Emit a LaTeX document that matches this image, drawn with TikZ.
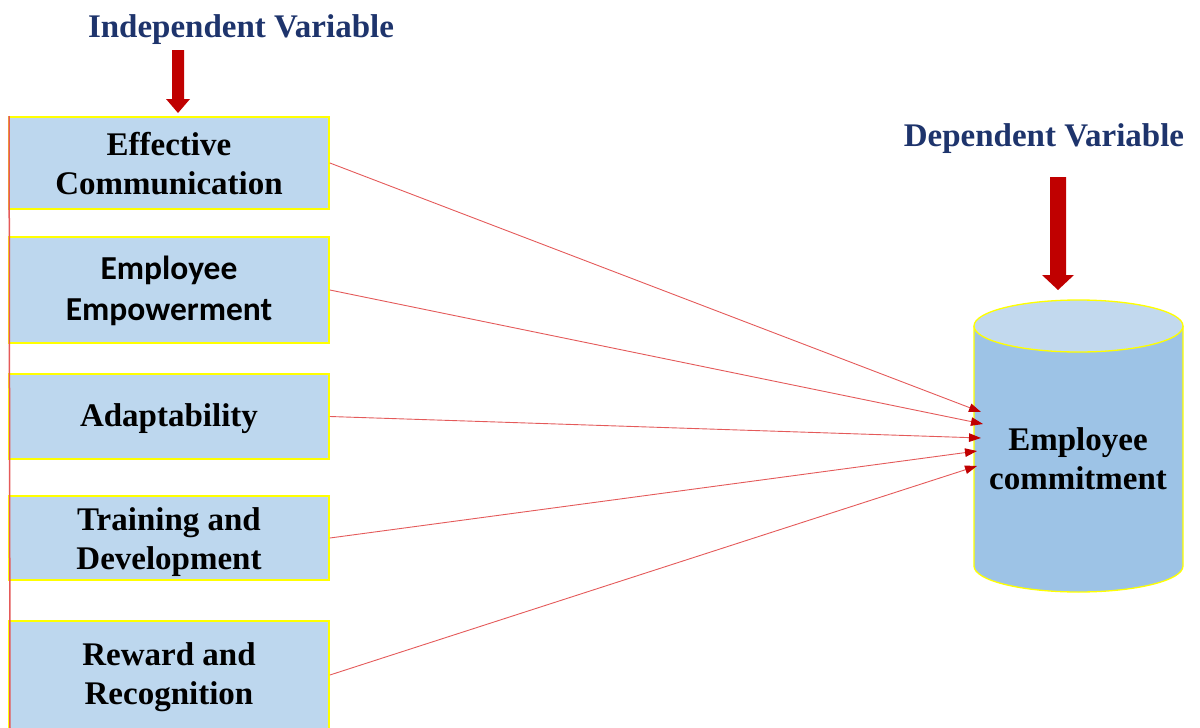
\documentclass[tikz,border=0pt]{standalone}
\usepackage{fontspec}
\setmainfont{Liberation Serif}
\newfontfamily\calib{Carlito}
\usetikzlibrary{arrows.meta}
\definecolor{navy}{RGB}{30,52,108}
\definecolor{darkred}{RGB}{192,0,0}
\definecolor{thinred}{RGB}{228,90,90}
\definecolor{boxblue}{RGB}{189,215,238}
\definecolor{cylbody}{RGB}{157,195,230}
\definecolor{cyltop}{RGB}{194,217,238}
\definecolor{yel}{RGB}{255,255,0}
\newcommand\topstr[1]{\rule{0pt}{#1}}
\newcommand\botstr{\rule[-10pt]{0pt}{10pt}}
\tikzset{
  varbox/.style={draw=yel, line width=1.8pt, fill=boxblue, minimum width=320pt, inner sep=0pt, align=center, font=\fontsize{33}{39}\selectfont\bfseries},
  title/.style={text=navy, font=\fontsize{33}{38}\selectfont\bfseries, anchor=base, inner sep=0pt},
  conn/.style={draw=thinred, line width=0.9pt, -{Triangle[length=12pt,width=8.5pt,color=darkred,fill=darkred]}},
  bigarrow/.style={fill=darkred},
  leftline/.style={draw=thinred, line width=1.5pt}
}
\begin{document}
\begin{tikzpicture}[x=1pt,y=-1pt]
\useasboundingbox (0,0) rectangle (1200,728);
\clip (0,0) rectangle (1200,728);
% titles
\node[title] (indep) at (241,37) {Independent Variable};
\node[title] (dep) at (1044,146) {Dependent Variable};
% boxes
\node[varbox, minimum height=92pt] (b1) at (169,163) {\topstr{34pt}Effective\\Communication\botstr};
\node[varbox, minimum height=106pt, font=\calib\fontsize{33.5}{41}\selectfont\bfseries] (b2) at (169,290) {\topstr{30pt}Employee\\Empowerment\botstr};
\node[varbox, minimum height=85pt] (b3) at (169,416.5) {\topstr{30pt}Adaptability\botstr};
\node[varbox, minimum height=84pt] (b4) at (169,538) {\topstr{33pt}Training and\\Development\botstr};
\node[varbox, minimum height=108pt] (b5) at (169,675) {\topstr{30pt}Reward and\\Recognition\botstr};
% left red line
\coordinate (lbot) at (10,728);
\draw[leftline] (b1.north west) ++(1,0) -- (lbot);
% big arrows
\fill[bigarrow] (172,50) -- (184,50) -- (184,99) -- (190,99) -- (178,113) -- (166,99) -- (172,99) -- cycle;
\fill[bigarrow] (1050,177) -- (1066,177) -- (1066,275) -- (1074,275) -- (1058,290) -- (1042,275) -- (1050,275) -- cycle;
% cylinder
\draw[draw=yel, line width=1.3pt, fill=cylbody] (974,326) -- (974,566) arc[start angle=180, end angle=360, x radius=104.5pt, y radius=26pt] -- (1183,326);
\draw[draw=yel, line width=1.3pt, fill=cyltop] (1078.5,326) ellipse[x radius=104.5pt, y radius=26pt];
\node[inner sep=0pt, align=center, font=\fontsize{33}{39}\selectfont\bfseries] (ec) at (1078,460) {\topstr{30pt}Employee\\commitment\botstr};
% connector ends
\coordinate (c1) at (981,412);
\coordinate (c2) at (983,424);
\coordinate (c3) at (981,438);
\coordinate (c4) at (977,451);
\coordinate (c5) at (977,466);
\draw[conn] (b1.east) -- (c1);
\draw[conn] (b2.east) -- (c2);
\draw[conn] (b3.east) -- (c3);
\draw[conn] (b4.east) -- (c4);
\draw[conn] (b5.east) -- (c5);
\end{tikzpicture}
\end{document}
